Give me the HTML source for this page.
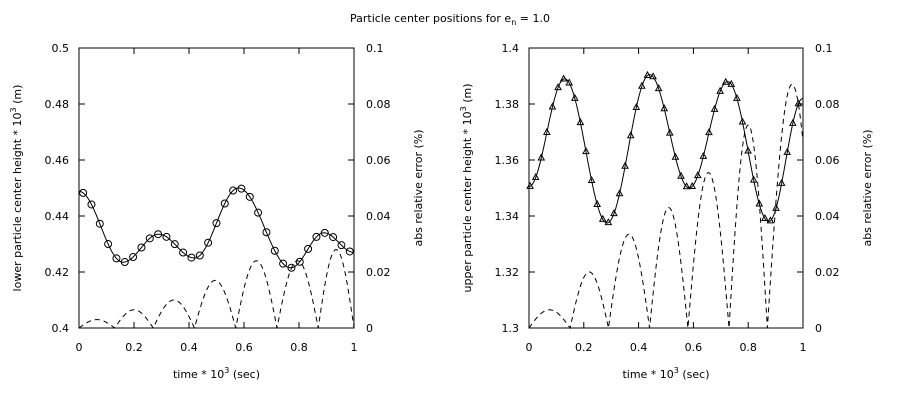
<!DOCTYPE html>
<html><head><meta charset="utf-8"><style>
html,body{margin:0;padding:0;background:#fff;}
svg text{font-family:"DejaVu Sans","Liberation Sans",sans-serif;font-size:11px;fill:#000;}
</style></head><body>
<svg id="s" width="900" height="400" xmlns="http://www.w3.org/2000/svg">
<text x="450" y="22" text-anchor="middle">Particle center positions for e<tspan font-size="8" dy="3">n</tspan><tspan dy="-3"> = 1.0</tspan></text>
</svg>
<script>
const S=document.getElementById('s');const NS='http://www.w3.org/2000/svg';
function el(t,a,txt){const e=document.createElementNS(NS,t);for(const k in a)e.setAttribute(k,a[k]);if(txt!==undefined)e.textContent=txt;S.appendChild(e);return e;}
function cosInterp(pts,t){for(let i=0;i<pts.length-1;i++){const [t0,v0]=pts[i],[t1,v1]=pts[i+1];if(t>=t0&&t<=t1){const u=(t-t0)/(t1-t0);const w=(1-Math.cos(Math.PI*u))/2;return v0+(v1-v0)*w;}}return pts[pts.length-1][1];}
function err(z,p,t){for(let i=0;i<z.length-1;i++){if(t>=z[i]&&t<=z[i+1]){return p[i]*Math.sin(Math.PI*(t-z[i])/(z[i+1]-z[i]));}}return 0;}
function panel(x0,x1,ymin,ymax,ylab,ydec,main,zs,ps,emax,leftLabel,mstart,mstep){
 const y0=48,y1=328;
 const X=t=>x0+(x1-x0)*t,Y=v=>y1-(v-ymin)/(ymax-ymin)*(y1-y0),YE=v=>y1-v/emax*(y1-y0);
 let d='';for(let i=0;i<=400;i++){const t=i/400;d+=(i?'L':'M')+X(t).toFixed(2)+' '+Y(cosInterp(main,t)).toFixed(2);}
 el('path',{d:d,fill:'none',stroke:'#000','stroke-width':1});
 let e='';for(let i=0;i<=600;i++){const t=i/600;e+=(i?'L':'M')+X(t).toFixed(2)+' '+YE(err(zs,ps,t)).toFixed(2);}
 el('path',{d:e,fill:'none',stroke:'#000','stroke-width':1,'stroke-dasharray':'5,4'});
 for(let t=mstart;t<1;t+=mstep){const cx=X(t),cy=Y(cosInterp(main,t));
  if(leftLabel) el('circle',{cx:cx,cy:cy,r:3.5,fill:'none',stroke:'#000'});
  else el('path',{d:`M${cx} ${cy-3.5}L${cx+3} ${cy+2}L${cx-3} ${cy+2}Z`,fill:'none',stroke:'#000'});}
 el('rect',{x:x0,y:y0,width:x1-x0,height:y1-y0,fill:'none',stroke:'#000'});
 for(let i=0;i<=5;i++){const x=X(i/5);el('line',{x1:x,y1:y1,x2:x,y2:y1-6,stroke:'#000'});el('line',{x1:x,y1:y0,x2:x,y2:y0+6,stroke:'#000'});
  el('text',{x:x,y:y1+23,'text-anchor':'middle'},i==0?'0':i==5?'1':(i/5).toFixed(1));
  const y=y1-i*(y1-y0)/5;el('line',{x1:x0,y1:y,x2:x0+6,y2:y,stroke:'#000'});el('line',{x1:x1,y1:y,x2:x1-6,y2:y,stroke:'#000'});
  const v=ymin+i*(ymax-ymin)/5;let s=v.toFixed(ydec).replace(/0+$/,'').replace(/\.$/,'');
  el('text',{x:x0-10,y:y+4,'text-anchor':'end'},s);
  const ev=i*0.02;el('text',{x:x1+12,y:y+4},i==0?'0':ev.toFixed(2).replace(/0$/,''));}
 const xm=(x0+x1)/2;const tx=el('text',{x:xm,y:y1+50,'text-anchor':'middle'});tx.innerHTML='time * 10<tspan font-size="8" dy="-5">3</tspan><tspan dy="5"> (sec)</tspan>';
 const ly=el('text',{transform:`translate(${x0-58},188) rotate(-90)`,'text-anchor':'middle'});ly.innerHTML=ylab+' * 10<tspan font-size="8" dy="-5">3</tspan><tspan dy="5"> (m)</tspan>';
 el('text',{transform:`translate(${x1+68},188) rotate(-90)`,'text-anchor':'middle'},'abs relative error (%)');
}
panel(79,354,0.4,0.5,'lower particle center height',2,
 [[0,0.4488],[0.16,0.4235],[0.29,0.4335],[0.42,0.425],[0.58,0.450],[0.77,0.4215],[0.89,0.434],[1.0,0.427]],
 [0,0.13,0.27,0.42,0.57,0.72,0.87,1.0],[0.003,0.0065,0.010,0.017,0.024,0.024,0.028],0.1,true,0.015,0.0303);
panel(529,803,1.3,1.4,'upper particle center height',2,
 [[0,1.3505],[0.13,1.389],[0.285,1.3375],[0.44,1.3905],[0.585,1.350],[0.725,1.388],[0.875,1.338],[1.0,1.382]],
 [0,0.15,0.29,0.44,0.58,0.73,0.87,1.05],[0.0065,0.020,0.0335,0.043,0.0555,0.0725,0.087],0.1,false,0.004,0.0204);
</script>
</body></html>
